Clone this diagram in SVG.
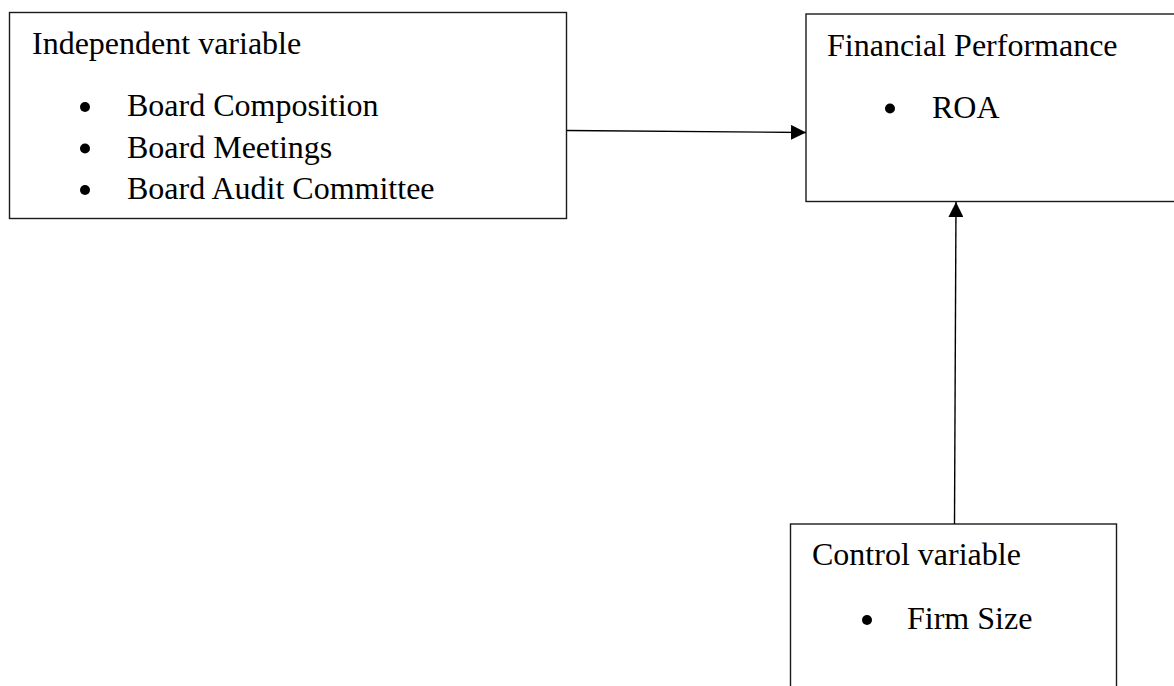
<svg xmlns="http://www.w3.org/2000/svg" width="1174" height="686" viewBox="0 0 1174 686">
<defs>
<style>
.box{fill:#fff;stroke:#1a1a1a;stroke-width:1.4}
.t{font-family:"Liberation Serif","Times New Roman",serif;font-size:32px;fill:#000}
.conn{stroke:#000;stroke-width:1.4;fill:none}
</style>
<marker id="ah" viewBox="0 0 10 10" refX="10" refY="5" markerWidth="15" markerHeight="15" markerUnits="userSpaceOnUse" orient="auto">
<path d="M0,0 L10,5 L0,10 Z" fill="#000"/>
</marker>
</defs>
<rect width="1174" height="686" fill="#fff"/>
<g id="independent">
<rect class="box" x="9.5" y="12.5" width="557" height="206"/>
<text class="t" x="32" y="54">Independent variable</text>
<circle cx="85" cy="107" r="5"/>
<text class="t" x="127" y="116">Board Composition</text>
<circle cx="85" cy="148.5" r="5"/>
<text class="t" x="127" y="157.5">Board Meetings</text>
<circle cx="85" cy="190" r="5"/>
<text class="t" x="127" y="199">Board Audit Committee</text>
</g>
<g id="financial">
<rect class="box" x="806" y="14" width="380" height="187.5"/>
<text class="t" x="827" y="56">Financial Performance</text>
<circle cx="890" cy="108.5" r="5"/>
<text class="t" x="932" y="118">ROA</text>
</g>
<g id="control">
<rect class="box" x="790.5" y="524" width="326" height="180"/>
<text class="t" x="812" y="565">Control variable</text>
<circle cx="867" cy="620" r="5"/>
<text class="t" x="907" y="629">Firm Size</text>
</g>
<g id="connectors">
<line class="conn" x1="567" y1="130.5" x2="806" y2="132.5" marker-end="url(#ah)"/>
<line class="conn" x1="954.5" y1="524" x2="956" y2="202" marker-end="url(#ah)"/>
</g>
</svg>
